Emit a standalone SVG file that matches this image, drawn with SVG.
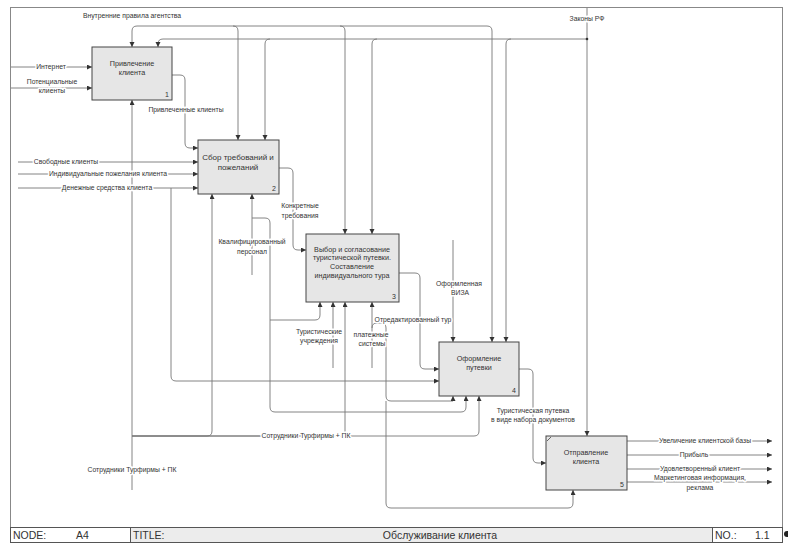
<svg xmlns="http://www.w3.org/2000/svg" width="788" height="548" viewBox="0 0 788 548">
<style>
text{font-family:"Liberation Sans",Arial,sans-serif;fill:#333;}
.bt{font-size:7.2px;text-anchor:middle;}
.num{font-size:7px;text-anchor:end;}
.lb{font-size:6.8px;text-anchor:middle;stroke:#fff;stroke-width:3px;paint-order:stroke;stroke-linejoin:round;}
.box{fill:#e6e6e6;stroke:#444;stroke-width:1;}
.c{fill:none;stroke:#777;stroke-width:0.9;}
.a{marker-end:url(#ah);}
.ft{font-size:10.5px;}
</style>
<defs>
<marker id="ah" markerUnits="userSpaceOnUse" markerWidth="6" markerHeight="6" refX="5" refY="2.5" orient="auto">
<path d="M0,0 L5,2.5 L0,5 z" fill="#333"/>
</marker>
</defs>
<rect width="788" height="548" fill="#fff"/>
<rect x="10.5" y="7.5" width="772" height="535" fill="none" stroke="#888" stroke-width="1"/>

<g id="connectors">
<!-- Внутренние правила агентства -->
<path class="c a" d="M137,26 Q132,26 132,31 V47"/>
<path class="c a" d="M137,26 H487 Q492,26 492,31 V342"/>
<path class="c a" d="M233,26 Q238,26 238,31 V140"/>
<path class="c a" d="M340,26 Q345,26 345,31 V234"/>
<!-- Законы РФ -->
<path class="c a" d="M587,8 V436"/>
<path class="c a" d="M587,39 H163 Q158,39 158,44 V47"/>
<path class="c a" d="M270,39 Q265,39 265,44 V140"/>
<path class="c a" d="M377,39 Q372,39 372,44 V234"/>
<path class="c a" d="M511,39 Q506,39 506,44 V342"/>
<circle cx="587" cy="39" r="1.3" fill="#333"/>
<!-- inputs box1 -->
<path class="c a" d="M11,67 H92"/>
<path class="c a" d="M11,88 H92"/>
<!-- box1 -> box2 -->
<path class="c a" d="M172,75 H180 Q185,75 185,80 V143 Q185,148 190,148 H198"/>
<!-- inputs box2 -->
<path class="c a" d="M18,162 H198"/>
<path class="c a" d="M18,174 H198"/>
<path class="c a" d="M18,188 H198"/>
<path class="c a" d="M171,188 V376 Q171,381 176,381 H439"/>
<!-- box2 -> box3 -->
<path class="c a" d="M279,168 H288 Q293,168 293,173 V245 Q293,250 298,250 H306"/>
<!-- box3 -> box4 -->
<path class="c a" d="M398,273 H415 Q420,273 420,278 V364 Q420,369 425,369 H439"/>
<!-- box4 -> box5 -->
<path class="c a" d="M519,369 H528 Q533,369 533,374 V458 Q533,463 538,463 H546"/>
<!-- outputs box5 -->
<path class="c a" d="M627,441 H772"/>
<path class="c a" d="M627,455 H772"/>
<path class="c a" d="M627,469 H772"/>
<path class="c a" d="M627,482 H772"/>
<!-- Сотрудники Турфирмы + ПК -->
<path class="c a" d="M132,490 V100"/>
<path class="c a" d="M132,436 H207 Q212,436 212,431 V194"/>
<path class="c a" d="M132,436 H340 Q345,436 345,431 V302"/>
<path class="c a" d="M132,436 H474 Q479,436 479,431 V396"/>
<!-- Квалифицированный персонал -->
<path class="c a" d="M252,275 V194"/>
<path class="c a" d="M252,218 H265 Q270,218 270,223 V407 Q270,412 275,412 H461 Q466,412 466,407 V396"/>
<path class="c a" d="M270,320 H315 Q320,320 320,315 V302"/>
<!-- Туристические учреждения -->
<path class="c a" d="M333,368 V302"/>
<!-- Платежные системы -->
<path class="c a" d="M372,368 V302"/>
<path class="c a" d="M372,328 Q372,323 377,323 H381 Q386,323 386,328 V396 Q386,401 391,401 H453 V396"/>
<path class="c a" d="M386,401 V503 Q386,508 391,508 H568 Q573,508 573,503 V490"/>
<!-- Оформленная виза -->
<path class="c a" d="M453,240 V342"/>

<!-- labels -->
<text class="lb" x="132" y="18">Внутренние правила агентства</text>
<text class="lb" x="587" y="21">Законы РФ</text>
<text class="lb" x="51" y="69">Интернет</text>
<text class="lb" x="52" y="84">Потенциальные</text>
<text class="lb" x="52" y="93">клиенты</text>
<text class="lb" x="186" y="112">Привлеченные клиенты</text>
<text class="lb" x="66" y="164">Свободные клиенты</text>
<text class="lb" x="108" y="176">Индивидуальные пожелания клиента</text>
<text class="lb" x="107" y="190">Денежные средства клиента</text>
<text class="lb" x="300" y="208">Конкретные</text>
<text class="lb" x="300" y="218">требования</text>
<text class="lb" x="252" y="244">Квалифицированный</text>
<text class="lb" x="252" y="254">персонал</text>
<text class="lb" x="319" y="334">Туристические</text>
<text class="lb" x="319" y="343">учреждения</text>
<text class="lb" x="371" y="337">платежные</text>
<text class="lb" x="372" y="346">системы</text>
<text class="lb" x="413" y="322">Отредактированный тур</text>
<text class="lb" x="459" y="286">Оформленная</text>
<text class="lb" x="460" y="295">ВИЗА</text>
<text class="lb" x="533" y="413">Туристическая путевка</text>
<text class="lb" x="533" y="422">в виде набора документов</text>
<text class="lb" x="705" y="443">Увеличение клиентской базы</text>
<text class="lb" x="694" y="457">Прибыль</text>
<text class="lb" x="700" y="471">Удовлетворенный клиент</text>
<text class="lb" x="700" y="480">Маркетинговая информация,</text>
<text class="lb" x="700" y="490">реклама</text>
<text class="lb" x="306" y="438">Сотрудники Турфирмы + ПК</text>
<text class="lb" x="132" y="472">Сотрудники Турфирмы + ПК</text>
</g>

<g id="node1">
<rect class="box" x="92" y="47" width="80" height="53"/>
<text class="bt" x="132" y="66">Привлечение</text>
<text class="bt" x="132" y="75">клиента</text>
<text class="num" x="169" y="97">1</text>
</g>
<g id="node2">
<rect class="box" x="198" y="140" width="81" height="54"/>
<text class="bt" x="238" y="160" style="font-size:8px">Сбор требований и</text>
<text class="bt" x="238" y="170" style="font-size:8px">пожеланий</text>
<text class="num" x="276" y="191">2</text>
</g>
<g id="node3">
<rect class="box" x="306" y="234" width="93" height="68"/>
<text class="bt" x="352" y="252">Выбор и согласование</text>
<text class="bt" x="352" y="260">туристической путевки.</text>
<text class="bt" x="352" y="269">Составление</text>
<text class="bt" x="352" y="278">индивидуального тура</text>
<text class="num" x="396" y="299">3</text>
</g>
<g id="node4">
<rect class="box" x="439" y="342" width="80" height="54"/>
<text class="bt" x="479" y="361">Оформление</text>
<text class="bt" x="479" y="370">путевки</text>
<text class="num" x="516" y="393">4</text>
</g>
<g id="node5">
<rect class="box" x="546" y="436" width="81" height="54"/>
<path d="M547,441 L551,437" stroke="#444" stroke-width="0.8" fill="none"/>
<text class="bt" x="586" y="455">Отправление</text>
<text class="bt" x="586" y="464">клиента</text>
<text class="num" x="624" y="487">5</text>
</g>

<g id="footer">
<rect x="10.5" y="527.5" width="772" height="15" fill="#fff" stroke="#555" stroke-width="1"/>
<rect x="131" y="528" width="581" height="14" fill="#ececec"/>
<line x1="130.5" y1="527.5" x2="130.5" y2="542.5" stroke="#555"/>
<line x1="712.5" y1="527.5" x2="712.5" y2="542.5" stroke="#555"/>
<text class="ft" x="13" y="539">NODE:</text>
<text class="ft" x="76" y="539">A4</text>
<text class="ft" x="133" y="539">TITLE:</text>
<text class="ft" x="440" y="539" text-anchor="middle">Обслуживание клиента</text>
<text class="ft" x="715" y="539">NO.:</text>
<text class="ft" x="755" y="539">1.1</text>
<circle cx="787" cy="534" r="3" fill="#222"/>
</g>
</svg>
